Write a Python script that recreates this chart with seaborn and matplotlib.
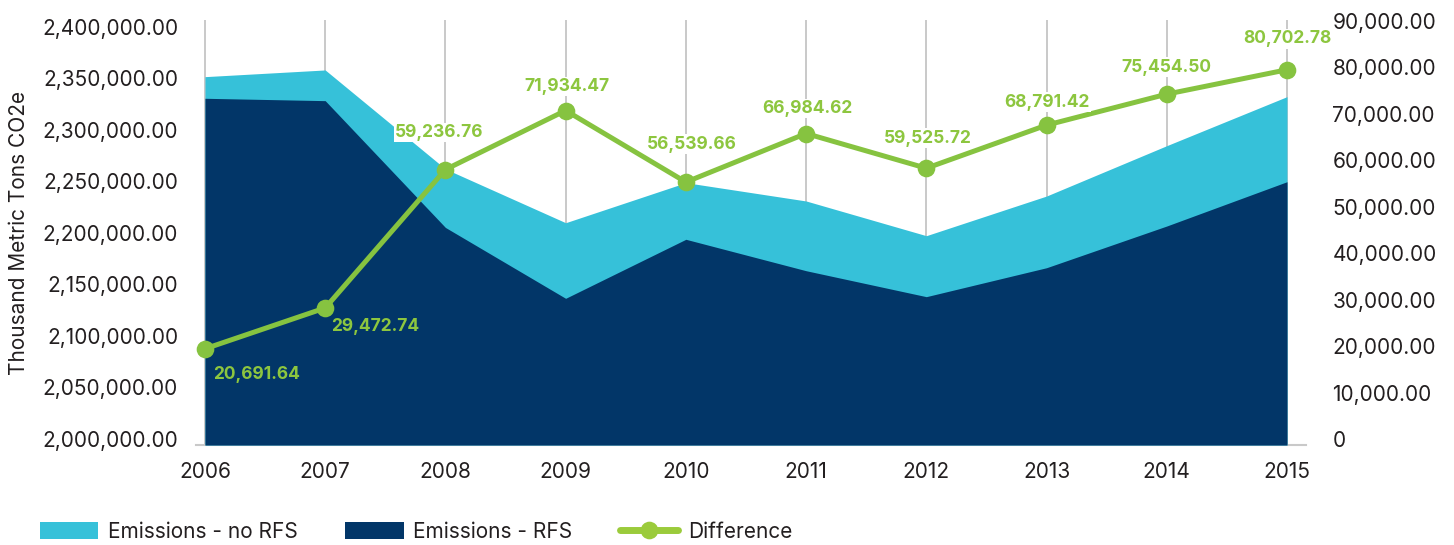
import matplotlib
matplotlib.use("Agg")
import matplotlib.pyplot as plt
import seaborn as sns
import pandas as pd
from matplotlib.ticker import FixedLocator, FuncFormatter
from matplotlib.transforms import ScaledTranslation
from matplotlib.patches import Patch
from matplotlib.lines import Line2D

# ---------------- data ----------------
years = [2006, 2007, 2008, 2009, 2010, 2011, 2012, 2013, 2014, 2015]
emissions_no_rfs = [2357600, 2364100, 2268000, 2215800, 2254700,
                    2236900, 2203200, 2241700, 2290600, 2338200]
emissions_rfs = [2336600, 2334300, 2211200, 2142400, 2199700,
                 2169200, 2144000, 2172100, 2212600, 2255600]
difference = [20691.64, 29472.74, 59236.76, 71934.47, 56539.66,
              66984.62, 59525.72, 68791.42, 75454.50, 80702.78]
left_ticks = [2000000, 2050000, 2100000, 2150000, 2200000,
              2250000, 2300000, 2350000, 2400000]
right_ticks = [0, 10000, 20000, 30000, 40000, 50000, 60000, 70000, 80000, 90000]
series_names = ["Emissions - no RFS", "Emissions - RFS", "Difference"]
y_title = "Thousand Metric Tons CO2e"

# ---------------- style ----------------
C_LIGHT = "#36c1d9"
C_NAVY = "#023668"
C_GREEN = "#86c340"
C_GREEN_TXT = "#8dc63f"
C_TEXT = "#231f20"
C_GRID = "#c9c9c9"

sns.set_theme(style="white")
plt.rcParams["font.family"] = ["Inter", "DejaVu Sans"]

df = pd.DataFrame({"year": years, "no_rfs": emissions_no_rfs,
                   "rfs": emissions_rfs, "diff": difference})

W, H = 1454, 545
fig = plt.figure(figsize=(W / 100, H / 100), dpi=100)
ax = fig.add_axes([195.7 / W, 1 - 445 / H, (1306 - 195.7) / W, (445 - 20) / H])

base = left_ticks[0]
ax.fill_between(df["year"], base, df["no_rfs"], color=C_LIGHT, linewidth=0, zorder=3)
ax.fill_between(df["year"], base, df["rfs"], color=C_NAVY, linewidth=0, zorder=4)

ax.set_xlim(2005.923, 2015.158)
ax.set_ylim(base, 2412600)
ax.set_xticks(years)
ax.set_xticklabels([str(y) for y in years])
ax.yaxis.set_major_locator(FixedLocator(left_ticks))
ax.yaxis.set_major_formatter(FuncFormatter(lambda v, p: f"{v:,.2f}"))
ax.grid(axis="x", color=C_GRID, linewidth=1.4, zorder=0)
ax.grid(axis="y", visible=False)
ax.set_axisbelow(True)
for s in ["top", "right", "left"]:
    ax.spines[s].set_visible(False)
ax.spines["bottom"].set_color(C_GRID)
ax.spines["bottom"].set_linewidth(1.5)
ax.spines["bottom"].set_zorder(2)
ax.tick_params(axis="y", length=0, pad=12.7, labelsize=15, labelcolor=C_TEXT)
ax.tick_params(axis="x", length=0, pad=12, labelsize=15, labelcolor=C_TEXT)
ax.set_ylabel(y_title, fontsize=15, color=C_TEXT)
ax.yaxis.set_label_coords(-0.150, 0.5)

# right axis
ax2 = ax.twinx()
sns.lineplot(data=df, x="year", y="diff", ax=ax2, color=C_GREEN, linewidth=3.6,
             marker="o", markersize=12.7, markeredgewidth=0, zorder=5, legend=False)
ax2.set_ylim(0, 91400)
ax2.set_xlim(2005.923, 2015.158)
ax2.yaxis.set_major_locator(FixedLocator(right_ticks))
ax2.yaxis.set_major_formatter(FuncFormatter(lambda v, p: "0" if v == 0 else f"{v:,.2f}"))
ax2.set_ylabel("")
ax2.set_xlabel("")
ax.set_xlabel("")
for s in ["top", "right", "left", "bottom"]:
    ax2.spines[s].set_visible(False)
ax2.grid(False)
ax2.tick_params(axis="y", length=0, pad=19, labelsize=15, labelcolor=C_TEXT)

# shift y tick labels slightly upward like the reference
shift = ScaledTranslation(0, 6 / 100, fig.dpi_scale_trans)
for a in (ax, ax2):
    for lab in a.get_yticklabels():
        lab.set_transform(lab.get_transform() + shift)

# data labels (pixel offsets, alignment)
label_offsets = [(8, -26, "left"), (6, -19, "left"), (-6, 37, "center"),
                 (1, 24, "center"), (6, 38, "center"), (1, 25, "center"),
                 (1, 30, "center"), (0, 23, "center"), (0, 27, "center"),
                 (0, 31, "center")]
for x, v, (dx, dy, ha) in zip(years, difference, label_offsets):
    kw = {}
    if dy > 0:
        kw["bbox"] = dict(boxstyle="square,pad=0.08", fc="white", ec="none")
    ax2.annotate(f"{v:,.2f}", (x, v), xytext=(dx, dy), textcoords="offset pixels",
                 ha=ha, va="center", fontsize=12.5, fontweight="bold",
                 color=C_GREEN_TXT, zorder=6, **kw)

# legend
handles = [Patch(facecolor=C_LIGHT, edgecolor="none"),
           Patch(facecolor=C_NAVY, edgecolor="none"),
           Line2D([], [], color="#9bcb3b", linewidth=5, marker="o",
                  markersize=12.7, markeredgewidth=0)]
fig.legend(handles, series_names, loc="center left",
           bbox_to_anchor=(40 / W, 1 - 531.7 / H), ncol=3, frameon=False,
           fontsize=15, handlelength=2.8, handleheight=0.82, handletextpad=0.45,
           columnspacing=2.3, borderpad=0, borderaxespad=0,
           labelcolor=C_TEXT)

fig.savefig("out.png", dpi=100)
